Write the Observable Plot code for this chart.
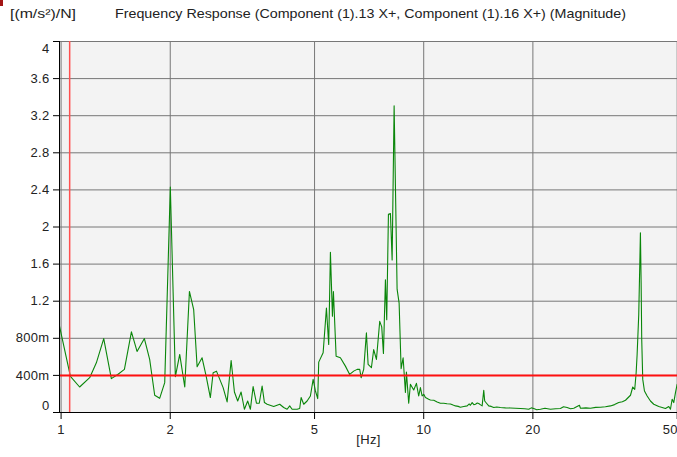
<!DOCTYPE html>
<html>
<head>
<meta charset="utf-8">
<script src="https://cdn.jsdelivr.net/npm/d3@7"></script>
<script src="https://cdn.jsdelivr.net/npm/@observablehq/plot@0.6"></script>
<style>
  body { margin: 0; background: #fff; font-family: "Liberation Sans", Arial, sans-serif; }
  #wrap { position: relative; width: 677px; height: 457px; overflow: hidden; }
  #corner { position: absolute; left: 0; top: 0; width: 3px; height: 6px; background: #a31515; }
  #head { display: block; }
  #head text { font-family: "Liberation Sans", Arial, sans-serif; font-size: 13px; fill: #222; }
  #chart svg { display: block; }
  #chart svg text { letter-spacing: 0.3px; }
</style>
</head>
<body>
<div id="wrap">
  <div id="corner"></div>
  <svg id="head" width="677" height="28">
    <text x="10" y="18" textLength="66" lengthAdjust="spacingAndGlyphs" id="unit"></text>
    <text x="115" y="18" textLength="511" lengthAdjust="spacingAndGlyphs" id="title"></text>
  </svg>
  <div id="chart"></div>
</div>
<script>
// Header texts
const unitLabel = "[(m/s²)/N]";
const titleText = "Frequency Response (Component (1).13 X+, Component (1).16 X+) (Magnitude)";
const xAxisLabel = "[Hz]";

// Magnitude spectrum: frequency (Hz) and magnitude ((m/s²)/N)
const freqHz = [
  0.99, 1.061, 1.125, 1.199, 1.251, 1.311, 1.376, 1.433, 1.495, 1.563,
  1.620, 1.697, 1.755, 1.812, 1.870, 1.931, 2.001, 2.066, 2.124, 2.193,
  2.259, 2.321, 2.372, 2.448, 2.512, 2.580, 2.626, 2.682, 2.798, 2.870,
  2.944, 3.006, 3.069, 3.136, 3.203, 3.270, 3.327, 3.385, 3.457, 3.520,
  3.584, 3.637, 3.700, 3.858, 4.008, 4.111, 4.201, 4.270, 4.336, 4.476,
  4.550, 4.591, 4.668, 4.769, 4.870, 4.955, 5.028, 5.102, 5.134, 5.280,
  5.392, 5.470, 5.530, 5.601, 5.636, 5.734, 5.892, 6.082, 6.250, 6.411,
  6.552, 6.661, 6.721, 6.831, 6.950, 7.026, 7.174, 7.279, 7.406, 7.563,
  7.660, 7.743, 7.842, 7.907, 7.993, 8.095, 8.183, 8.287, 8.445, 8.554,
  8.663, 8.774, 8.903, 8.960, 9.091, 9.190, 9.385, 9.548, 9.687, 9.792,
  9.899, 10.00, 10.11, 10.32, 10.43, 10.66, 10.89, 11.12, 11.35, 11.60,
  11.85, 12.05, 12.23, 12.45, 12.62, 12.90, 13.18, 13.35, 13.45, 13.60,
  13.75, 13.89, 14.05, 14.18, 14.35, 14.49, 14.64, 14.73, 14.90, 15.11,
  15.35, 15.60, 15.90, 16.27, 16.80, 17.34, 17.90, 18.48, 19.00, 19.48,
  19.80, 20.11, 20.50, 20.98, 21.60, 22.36, 23.10, 23.82, 24.30, 24.86,
  25.40, 25.93, 26.88, 27.05, 28.00, 28.83, 29.80, 30.72, 31.70, 32.73,
  33.60, 34.50, 35.30, 36.01, 37.17, 37.71, 38.19, 38.53, 38.77, 39.17,
  39.42, 39.59, 39.77, 39.92, 40.18, 40.62, 41.32, 42.19, 43.09, 44.48,
  45.45, 46.42, 47.40, 47.91, 48.42, 48.92, 49.46, 49.99
];
const magnitude = [
  0.93, 0.39, 0.275, 0.375, 0.536, 0.797, 0.365, 0.41, 0.465, 0.87,
  0.658, 0.797, 0.572, 0.186, 0.153, 0.322, 2.43, 0.386, 0.626, 0.275,
  1.305, 1.108, 0.494, 0.59, 0.393, 0.161, 0.429, 0.446, 0.268, 0.114,
  0.561, 0.221, 0.124, 0.221, 0.035, 0.124, 0.035, 0.279, 0.10, 0.10,
  0.286, 0.107, 0.089, 0.064, 0.089, 0.054, 0.035, 0.071, 0.035, 0.035,
  0.043, 0.161, 0.089, 0.124, 0.178, 0.357, 0.232, 0.150, 0.543, 0.644,
  1.127, 0.733, 1.727, 1.037, 1.305, 0.607, 0.590, 0.50, 0.411, 0.446,
  0.465, 0.465, 0.375, 0.465, 0.858, 0.518, 0.483, 0.679, 0.572, 0.983,
  0.923, 0.636, 1.43, 1.001, 2.138, 2.146, 1.645, 3.308, 1.33, 1.18,
  0.472, 0.59, 0.215, 0.436, 0.10, 0.304, 0.243, 0.314, 0.178, 0.268,
  0.178, 0.196, 0.161, 0.143, 0.135, 0.132, 0.114, 0.10, 0.10, 0.094,
  0.092, 0.080, 0.071, 0.066, 0.057, 0.064, 0.071, 0.092, 0.078, 0.107,
  0.085, 0.089, 0.102, 0.097, 0.082, 0.071, 0.239, 0.124, 0.10, 0.071,
  0.066, 0.054, 0.060, 0.054, 0.050, 0.049, 0.046, 0.043, 0.040, 0.035,
  0.050, 0.043, 0.030, 0.035, 0.045, 0.035, 0.040, 0.043, 0.062, 0.054,
  0.040, 0.046, 0.078, 0.046, 0.050, 0.046, 0.055, 0.057, 0.062, 0.071,
  0.085, 0.107, 0.115, 0.132, 0.186, 0.275, 0.25, 0.429, 0.626, 1.055,
  1.573, 1.938, 1.395, 0.786, 0.357, 0.232, 0.178, 0.124, 0.089, 0.064,
  0.054, 0.043, 0.064, 0.035, 0.143, 0.107, 0.215, 0.304
];

// Cursor positions (red crosshair)
const cursorFreq = [1.056];
const cursorLevel = [0.4];

// Axis ticks and their labels
const xTicks = [1, 2, 5, 10, 20, 50];
const xTickLabels = ["1", "2", "5", "10", "20", "50"];
const yTicks = [0, 0.4, 0.8, 1.2, 1.6, 2, 2.4, 2.8, 3.2, 3.6, 4];
const yTickLabels = ["0", "400m", "800m", "1.2", "1.6", "2", "2.4", "2.8", "3.2", "3.6", "4"];

document.getElementById("unit").textContent = unitLabel;
document.getElementById("title").textContent = titleText;

const rows = freqHz.map((f, i) => ({f, m: magnitude[i]}));
const yLabel = new Map(yTicks.map((t, i) => [t, yTickLabels[i]]));
const xLabel = new Map(xTicks.map((t, i) => [t, xTickLabels[i]]));
const yFirst = yTicks[0], yLast = yTicks[yTicks.length - 1];
const xLast = xTicks[xTicks.length - 1];

const chart = Plot.plot({
  width: 677,
  height: 429,
  marginLeft: 59,
  marginRight: 0,
  marginTop: 13,
  marginBottom: 45,
  x: {type: "log", domain: [0.99, 50.1]},
  y: {domain: [0, 4]},
  style: {fontFamily: "'Liberation Sans', Arial, sans-serif", fontSize: "13px", color: "#222", background: "transparent", overflow: "visible"},
  marks: [
    Plot.frame({fill: "#f3f3f3", stroke: null}),
    Plot.gridY(yTicks, {stroke: "#777", strokeOpacity: 1, strokeWidth: 1}),
    Plot.gridX(xTicks, {stroke: "#777", strokeOpacity: 1, strokeWidth: 1}),
    Plot.line(rows, {x: "f", y: "m", stroke: "#0a860a", strokeWidth: 1.1}),
    Plot.ruleX(cursorFreq, {stroke: "#ff5050", strokeWidth: 1.5}),
    Plot.ruleY(cursorLevel, {stroke: "#ff1010", strokeWidth: 2}),
    // black axis lines
    Plot.ruleX([0.99], {stroke: "#000", strokeWidth: 1}),
    Plot.ruleY([0], {stroke: "#000", strokeWidth: 1}),
    Plot.axisY(yTicks, {
      tickSize: 6, tickPadding: 4, stroke: "#000", label: null,
      tickFormat: (d) => (d === yFirst || d === yLast ? "" : yLabel.get(d))
    }),
    Plot.text([yFirst], {y: (d) => d, text: (d) => yLabel.get(d), frameAnchor: "left", textAnchor: "end", dx: -10, dy: -7}),
    Plot.text([yLast], {y: (d) => d, text: (d) => yLabel.get(d), frameAnchor: "left", textAnchor: "end", dx: -10, dy: 7}),
    Plot.axisX(xTicks, {
      tickSize: 7, tickPadding: 5, stroke: "#000", label: null,
      tickFormat: (d) => (d === xLast ? "" : xLabel.get(d))
    }),
    Plot.text([xLast], {x: (d) => d, text: (d) => xLabel.get(d), frameAnchor: "bottom", lineAnchor: "top", dy: 12, dx: -7}),
    Plot.text([xAxisLabel], {text: (d) => d, frameAnchor: "bottom", dy: 31})
  ]
});

document.getElementById("chart").appendChild(chart);
</script>
</body>
</html>
